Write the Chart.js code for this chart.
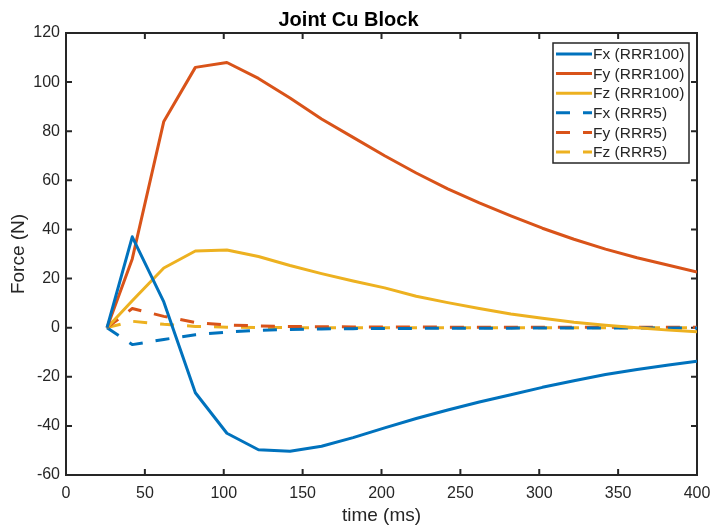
<!DOCTYPE html>
<html>
<head>
<meta charset="utf-8">
<script src="https://cdn.jsdelivr.net/npm/chart.js@4.4.0/dist/chart.umd.min.js"></script>
<style>
  html, body { margin: 0; padding: 0; background: #fff; }
  #wrap { width: 715px; height: 527px; }
</style>
</head>
<body>
<div id="wrap"><canvas id="chart-joint"></canvas></div>
<script>
/* Joint Cu Block — forces RRR100 vs RRR5 */

var timeMs = [26, 42, 62, 82, 102, 122, 142, 162, 182, 202, 222, 242, 262, 282, 302, 322, 342, 362, 382, 400];

var fx100 = [0, 37, 10.5, -26.5, -43, -49.7, -50.3, -48.3, -44.8, -40.8, -37, -33.5, -30.3, -27.3, -24.3, -21.6, -19.1, -17, -15.2, -13.7];
var fy100 = [0, 28, 84, 106, 108, 101.5, 93.5, 85, 77.5, 70, 63, 56.5, 50.8, 45.5, 40.5, 36, 32, 28.5, 25.4, 22.7];
var fz100 = [0, 11, 24.3, 31.2, 31.6, 29, 25.3, 22, 19, 16.2, 12.8, 10.2, 7.8, 5.6, 3.8, 2.2, 1.0, 0, -1, -1.7];

var fx5 = [0, -6.9, -4.8, -2.9, -1.8, -1.1, -0.7, -0.5, -0.4, -0.3, -0.3, -0.2, -0.2, -0.2, -0.1, -0.1, -0.1, -0.1, -0.1, -0.1];
var fy5 = [0, 7.8, 4.6, 2.1, 1.1, 0.7, 0.5, 0.4, 0.3, 0.3, 0.3, 0.2, 0.2, 0.2, 0.2, 0.2, 0.2, 0.2, 0.2, 0.2];
var fz5 = [0, 2.6, 1.4, 0.5, 0.2, 0.1, 0, 0, 0, 0, 0, 0, 0, 0, 0, 0, 0, 0, 0, 0];

var seriesLabels = ['Fx (RRR100)', 'Fy (RRR100)', 'Fz (RRR100)', 'Fx (RRR5)', 'Fy (RRR5)', 'Fz (RRR5)'];

var BLUE = '#0072BD', ORANGE = '#D95319', YELLOW = '#EDB120';
var AXIS = '#262626';
var FONT = '"Liberation Sans", Arial, Helvetica, sans-serif';
var DASH = [14, 13];

function pts(ys) {
  return ys.map(function(y, i){ return { x: timeMs[i], y: y }; });
}

function line(label, ys, color, dashed) {
  return {
    label: label, data: pts(ys), borderColor: color, backgroundColor: color,
    borderWidth: 3, pointRadius: 0, tension: 0, fill: false,
    borderDash: dashed ? DASH : [], borderJoinStyle: 'round'
  };
}

// frame on four sides + inward ticks (MATLAB box)
var matlabBox = {
  id: 'matlabBox',
  beforeDatasetsDraw: function(chart) {
    var ctx = chart.ctx, a = chart.chartArea;
    var xs = chart.scales.x, ys = chart.scales.y;
    ctx.save();
    ctx.strokeStyle = AXIS;
    ctx.lineWidth = 2;
    ctx.strokeRect(a.left, a.top, a.right - a.left, a.bottom - a.top);
    ctx.beginPath();
    xs.ticks.forEach(function(t) {
      var px = xs.getPixelForValue(t.value);
      ctx.moveTo(px, a.bottom); ctx.lineTo(px, a.bottom - 6);
      ctx.moveTo(px, a.top);    ctx.lineTo(px, a.top + 6);
    });
    ys.ticks.forEach(function(t) {
      var py = ys.getPixelForValue(t.value);
      ctx.moveTo(a.left, py);  ctx.lineTo(a.left + 6, py);
      ctx.moveTo(a.right, py); ctx.lineTo(a.right - 6, py);
    });
    ctx.stroke();
    ctx.restore();
  }
};

// boxed legend inside the top-right corner
var boxLegend = {
  id: 'boxLegend',
  afterDraw: function(chart) {
    var ctx = chart.ctx, a = chart.chartArea;
    var w = 136, h = 120;
    var x0 = a.right - 8 - w, y0 = a.top + 10;
    ctx.save();
    ctx.fillStyle = '#fff';
    ctx.fillRect(x0, y0, w, h);
    ctx.strokeStyle = AXIS;
    ctx.lineWidth = 1.5;
    ctx.strokeRect(x0, y0, w, h);
    ctx.font = '15.5px ' + FONT;
    ctx.textBaseline = 'middle';
    chart.data.datasets.forEach(function(ds, i) {
      var yy = y0 + 11 + i * 19.6;
      ctx.beginPath();
      ctx.setLineDash(ds.borderDash || []);
      ctx.strokeStyle = ds.borderColor;
      ctx.lineWidth = 3;
      ctx.moveTo(x0 + 3, yy);
      ctx.lineTo(x0 + 39, yy);
      ctx.stroke();
      ctx.setLineDash([]);
      ctx.fillStyle = AXIS;
      ctx.fillText(ds.label, x0 + 40, yy + 1);
    });
    ctx.restore();
  }
};

new Chart(document.getElementById('chart-joint'), {
  type: 'line',
  data: {
    datasets: [
      line(seriesLabels[0], fx100, BLUE, false),
      line(seriesLabels[1], fy100, ORANGE, false),
      line(seriesLabels[2], fz100, YELLOW, false),
      line(seriesLabels[3], fx5, BLUE, true),
      line(seriesLabels[4], fy5, ORANGE, true),
      line(seriesLabels[5], fz5, YELLOW, true)
    ]
  },
  options: {
    responsive: true,
    maintainAspectRatio: false,
    animation: false,
    layout: { padding: { left: 0, right: 18, top: 0, bottom: 0 } },
    plugins: {
      legend: { display: false },
      tooltip: { enabled: false },
      title: {
        display: true, text: 'Joint Cu Block', color: '#000',
        font: { family: FONT, size: 20, weight: 'bold', lineHeight: 1.2 },
        padding: { top: 8, bottom: 1 }
      }
    },
    scales: {
      x: {
        type: 'linear', min: 0, max: 400,
        grid: { display: false, drawTicks: false },
        border: { display: false },
        ticks: { stepSize: 50, color: AXIS, padding: 9, font: { family: FONT, size: 16 }, maxRotation: 0 },
        title: { display: true, text: 'time (ms)', color: AXIS, font: { family: FONT, size: 19, lineHeight: 1.2 }, padding: { top: 0, bottom: 0 } },
        afterFit: function(s) { s.height = 52; s.paddingLeft = 0; s.paddingRight = 0; }
      },
      y: {
        min: -60, max: 120,
        grid: { display: false, drawTicks: false },
        border: { display: false },
        ticks: { stepSize: 20, color: AXIS, padding: 6, font: { family: FONT, size: 16 } },
        title: { display: true, text: 'Force (N)', color: AXIS, font: { family: FONT, size: 19, lineHeight: 1.2 }, padding: { top: 7, bottom: 0 } },
        afterFit: function(s) { s.width = 66; }
      }
    }
  },
  plugins: [matlabBox, boxLegend]
});
</script>
</body>
</html>
